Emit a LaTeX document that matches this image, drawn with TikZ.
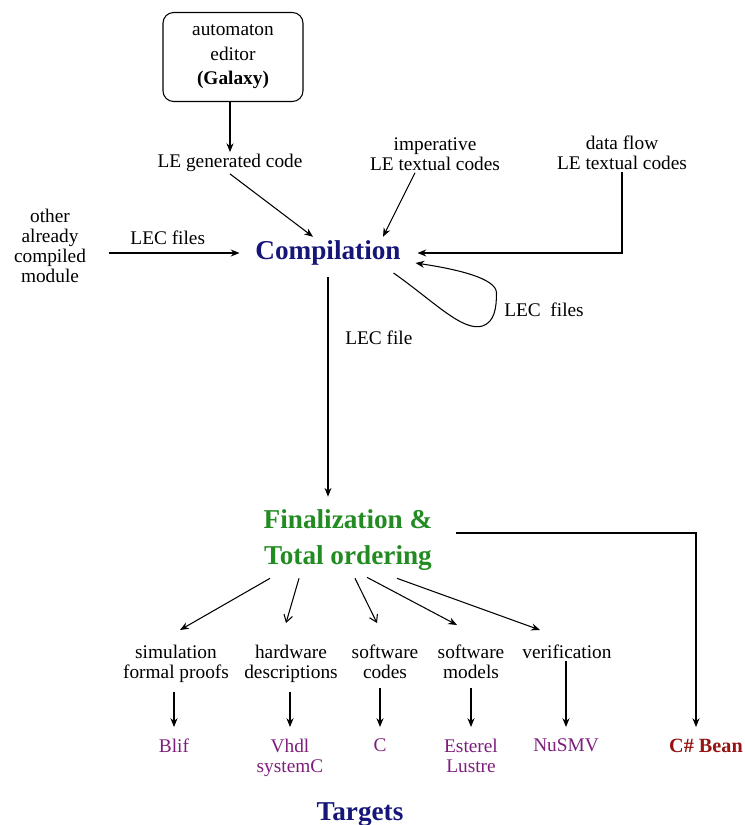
\documentclass[tikz,border=0pt]{standalone}
\usepackage{fontspec}
\setmainfont{Liberation Serif}
\usepackage{tikz}
\usepackage{xcolor}
\usetikzlibrary{arrows.meta, positioning, calc}
\definecolor{compblue}{RGB}{22, 22, 120}
\definecolor{fingreen}{RGB}{34, 139, 34}
\definecolor{targetpurple}{RGB}{125, 30, 125}
\definecolor{beanred}{RGB}{150, 20, 20}
\tikzset{
    % Editor box (top)
    editorbox/.style={
        draw=black, line width=0.6pt,
        rounded corners=6pt,
        minimum width=2.8cm,
        minimum height=1.78cm,
        align=center,
        font=\fontsize{11}{14}\selectfont,
    },
    % Source / intermediate labels
    srclabel/.style={
        align=center,
        inner sep=1pt,
        font=\fontsize{11}{11.5}\selectfont,
    },
    % Phase titles (Compilation, Finalization, Targets)
    phase/.style={
        text=#1,
        align=center,
        inner sep=2pt,
        font=\bfseries\fontsize{15.5}{20.5}\selectfont,
    },
    % Branch labels below finalization
    branchlabel/.style={
        anchor=north,
        align=center,
        inner sep=1pt,
        font=\fontsize{11}{11.5}\selectfont,
    },
    % Target languages
    targetlabel/.style={
        anchor=north,
        align=center,
        inner sep=1pt,
        text=targetpurple,
        font=\fontsize{11}{11.5}\selectfont,
    },
    % C# bean target
    beanlabel/.style={
        anchor=north,
        inner sep=1pt,
        text=beanred,
        font=\bfseries\fontsize{11.5}{12}\selectfont,
    },
    % Edge label
    edgelabel/.style={
        inner sep=1pt,
        font=\fontsize{11}{11.5}\selectfont,
    },
    % Filled arrow
    flow/.style={
        -{Stealth[length=5pt, width=4pt]},
        line width=0.6pt,
    },
    % Open arrow
    openflow/.style={
        -{Straight Barb[length=4pt, width=5pt]},
        line width=0.6pt,
    },
}

\begin{document}
\begin{tikzpicture}[x=0.02cm, y=-0.02cm]
\useasboundingbox (0,0) rectangle (744,825);

% =========================================================================
% SOURCES
% =========================================================================
\node[editorbox] (galaxy) at (233,57) {automaton\\editor\\\textbf{(Galaxy)}};
\node[srclabel] (legen) at (230,163) {LE generated code};
\node[srclabel] (imper) at (435,154) {imperative\\LE textual codes};
\node[srclabel] (dflow) at (622,153) {data flow\\LE textual codes};
\node[srclabel] (other) at (50,246) {other\\already\\compiled\\module};

% =========================================================================
% PHASES
% =========================================================================
\node[phase=compblue] (comp) at (328,253) {Compilation};
\node[phase=fingreen] (fin) at (348,540) {Finalization \&\\Total ordering};
\node[phase=compblue] (targets) at (360,815) {Targets};

% =========================================================================
% BRANCHES
% =========================================================================
\node[branchlabel] (sim) at (176,643) {simulation\\formal proofs};
\node[branchlabel] (hw) at (291,643) {hardware\\descriptions};
\node[branchlabel] (swc) at (385,643) {software\\codes};
\node[branchlabel] (swm) at (471,643) {software\\models};
\node[branchlabel] (ver) at (567,643) {verification};

% =========================================================================
% TARGETS
% =========================================================================
\node[targetlabel] (blif) at (174,737) {Blif};
\node[targetlabel] (vhdl) at (290,737) {Vhdl\\systemC};
\node[targetlabel] (clang) at (380,737) {C};
\node[targetlabel] (esterel) at (471,737) {Esterel\\Lustre};
\node[targetlabel] (nusmv) at (566,737) {NuSMV};
\node[beanlabel] (bean) at (706,737) {C\# Bean};

% =========================================================================
% ARROWS -- into compilation
% =========================================================================
\draw[flow] (legen |- galaxy.south) -- (legen.north);
\draw[flow] (legen.south) -- ($(comp.north)+(-15,0)$);
\draw[flow] ($(imper.south)+(-20,0)$) -- ($(comp.north)+(55,0)$);
\draw[flow, shorten >=0.26cm] (dflow.south) |- (comp.east);
\draw[flow] ($(other.east |- comp)+(21,0)$) --
    node[edgelabel, above=0.12cm, pos=0.45] {LEC files} ($(comp.west)+(-12,0)$);

% self loop
\draw[flow] ($(comp.east)+(-11,20)$) .. controls +(40,28) and +(-20,6) ..
    ($(comp.east)+(78,73)$) .. controls +(12,-4) and +(0,15) ..
    ($(comp.east)+(92,40)$) .. controls +(0,-15) and +(40,6) ..
    ($(comp.east)+(11,10)$);
\node[edgelabel] (loopfiles) at (544,310) {LEC\ \ files};

% =========================================================================
% ARROWS -- compilation to finalization
% =========================================================================
\draw[flow, shorten <=0.16cm] (comp.south) --
    node[edgelabel, right=0.3cm, pos=0.3] {LEC file} ($(comp.south |- fin.north)+(0,-9)$);

% =========================================================================
% ARROWS -- finalization to branches
% =========================================================================
\draw[flow] ($(fin.south)+(-78,4)$) -- ($(sim.north)+(4,-13)$);
\draw[openflow] ($(fin.south)+(-49,4)$) -- ($(hw.north)+(-5,-20)$);
\draw[openflow] ($(fin.south)+(7,4)$) -- ($(swc.north)+(-8,-20)$);
\draw[flow] ($(fin.south)+(19,3)$) -- ($(swm.north)+(-14,-18)$);
\draw[flow] ($(fin.south)+(49,4)$) -- ($(ver.north)+(-27,-13)$);
\draw[flow] ($(fin.east)+(20,-7)$) -| ($(bean.north)+(-10,-10)$);

% =========================================================================
% ARROWS -- branches to targets
% =========================================================================
\draw[flow, shorten <=0.14cm] (blif.north |- sim.south) -- ($(blif.north)+(0,-10)$);
\draw[flow, shorten <=0.14cm] (vhdl.north |- hw.south) -- ($(vhdl.north)+(0,-10)$);
\draw[flow, shorten <=0.14cm] (clang.north |- swc.south) -- ($(clang.north)+(0,-10)$);
\draw[flow, shorten <=0.14cm] (esterel.north |- swm.south) -- ($(esterel.north)+(0,-10)$);
\draw[flow] (nusmv.north |- ver.south) -- ($(nusmv.north)+(0,-10)$);

\end{tikzpicture}
\end{document}
